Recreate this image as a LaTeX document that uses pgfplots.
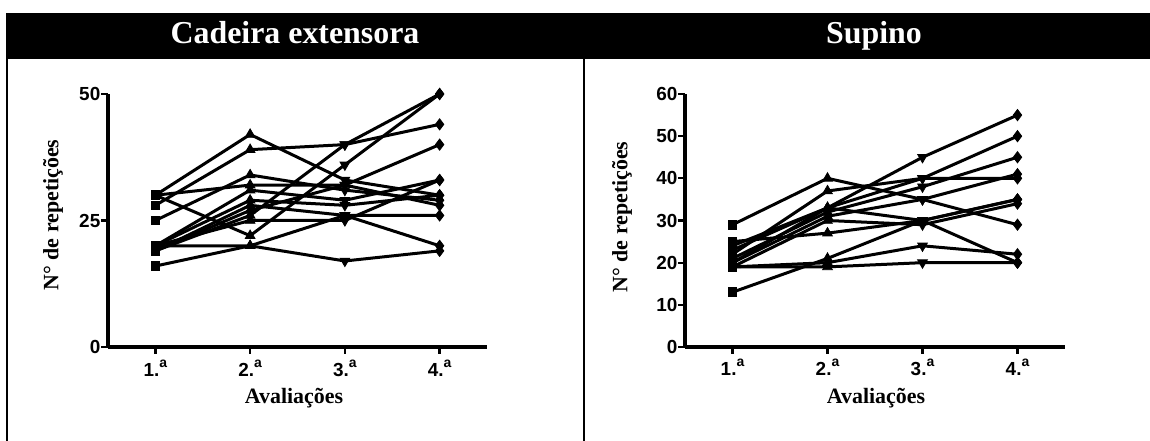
\documentclass[border=0pt]{standalone}
\usepackage{pgfplots}
\pgfplotsset{compat=1.18}
\usepackage{pgfplotstable}
\usepackage{fontspec}
\setmainfont{Liberation Serif}
\newfontface\tickfont{Liberation Sans Bold}

% filled triangle pointing down
\pgfdeclareplotmark{dtriangle*}{%
  \pgfpathmoveto{\pgfqpoint{0pt}{-\pgfplotmarksize}}%
  \pgfpathlineto{\pgfqpointpolar{30}{\pgfplotmarksize}}%
  \pgfpathlineto{\pgfqpointpolar{150}{\pgfplotmarksize}}%
  \pgfpathclose
  \pgfusepathqfillstroke
}

% Cadeira extensora: one row per evaluation, one column per subject
\pgfplotstableread{
ev s1 s2 s3 s4 s5 s6 s7 s8 s9 s10 s11 s12 s13
1  30 28 30 30 25 20 20 19 19 19  20  16  20
2  42 39 32 22 34 31 29 28 27 26  25  20  20
3  33 40 32 36 31 29 28 26 32 40  25  17  26
4  30 44 28 50 29 33 30 26 40 50  33  19  20
}\cadeira

% Supino
\pgfplotstableread{
ev s1 s2 s3 s4 s5 s6 s7 s8 s9 s10 s11 s12
1  29 24 22 21 20 23 25 19 13 20  19  19
2  40 33 37 32 31 33 27 30 21 33  20  19
3  35 45 40 38 35 40 30 29 30 30  24  20
4  29 55 50 45 41 40 35 34 35 20  22  20
}\supino

\newcommand{\ev}[1]{#1.\raisebox{9bp}{\fontsize{14}{14}\selectfont a}}

\pgfplotsset{
  panel/.style={
    scale only axis, width=379bp, height=253bp,
    axis x line*=bottom, axis y line*=left,
    xtick pos=left, ytick pos=left,
    axis line style={line width=4bp, black},
    xmin=0.5, xmax=4.5, ymin=0,
    xtick={1,2,3,4},
    xticklabels={\ev{1},\ev{2},\ev{3},\ev{4}},
    tick align=outside, major tick length=7bp,
    tick style={line width=2.3bp, black},
    tick label style={font=\tickfont\fontsize{19}{19}\selectfont},
    xticklabel style={anchor=base, yshift=-22bp},
    yticklabel style={inner xsep=0.5bp},
    /pgf/number format/assume math mode=true,
    clip=false,
  },
  subj/.style={black, line width=3bp, mark=none},
  mk/.style={black, only marks, mark options={solid, line width=0.8bp}},
  m1/.style={mk, mark=square*,    mark size=4.3bp, mark indices={1}},
  m2/.style={mk, mark=triangle*,  mark size=5.6bp, mark indices={2}},
  m3/.style={mk, mark=dtriangle*, mark size=5.6bp, mark indices={3}},
  m4/.style={mk, mark=diamond*,   mark size=5.6bp, mark indices={4}},
}

\begin{document}
\begin{tikzpicture}
\useasboundingbox (0,0) rectangle (1150bp,441bp);

% header band and cell borders
\fill[black] (6bp,382bp) rectangle (1150bp,428bp);
\draw[line width=2bp] (7bp,0) -- (7bp,382bp);
\draw[line width=2bp] (584bp,0) -- (584bp,382bp);
\node[white, anchor=base, font=\bfseries\fontsize{32}{32}\selectfont] at (295bp,397bp) {Cadeira extensora};
\node[white, anchor=base, font=\bfseries\fontsize{32}{32}\selectfont] at (874bp,397bp) {Supino};

% left panel
\begin{axis}[panel, at={(108bp,94bp)}, anchor=south west, ymax=50, ytick={0,25,50}]
\pgfplotsinvokeforeach{1,...,13}{
  \addplot[subj] table[x=ev, y=s#1]{\cadeira};
  \addplot[m1] table[x=ev, y=s#1]{\cadeira};
  \addplot[m2] table[x=ev, y=s#1]{\cadeira};
  \addplot[m3] table[x=ev, y=s#1]{\cadeira};
  \addplot[m4] table[x=ev, y=s#1]{\cadeira};
}
\end{axis}
\node[rotate=90, font=\bfseries\fontsize{22}{22}\selectfont] at (53bp,226bp) {N° de repetições};
\node[anchor=base, font=\bfseries\fontsize{22}{22}\selectfont] at (294bp,38bp) {Avaliações};

% right panel
\begin{axis}[panel, at={(685bp,94bp)}, anchor=south west, width=380bp, ymax=60, ytick={0,10,...,60}]
\pgfplotsinvokeforeach{1,...,12}{
  \addplot[subj] table[x=ev, y=s#1]{\supino};
  \addplot[m1] table[x=ev, y=s#1]{\supino};
  \addplot[m2] table[x=ev, y=s#1]{\supino};
  \addplot[m3] table[x=ev, y=s#1]{\supino};
  \addplot[m4] table[x=ev, y=s#1]{\supino};
}
\end{axis}
\node[rotate=90, font=\bfseries\fontsize{22}{22}\selectfont] at (622bp,224bp) {N° de repetições};
\node[anchor=base, font=\bfseries\fontsize{22}{22}\selectfont] at (876bp,38bp) {Avaliações};
\end{tikzpicture}
\end{document}
